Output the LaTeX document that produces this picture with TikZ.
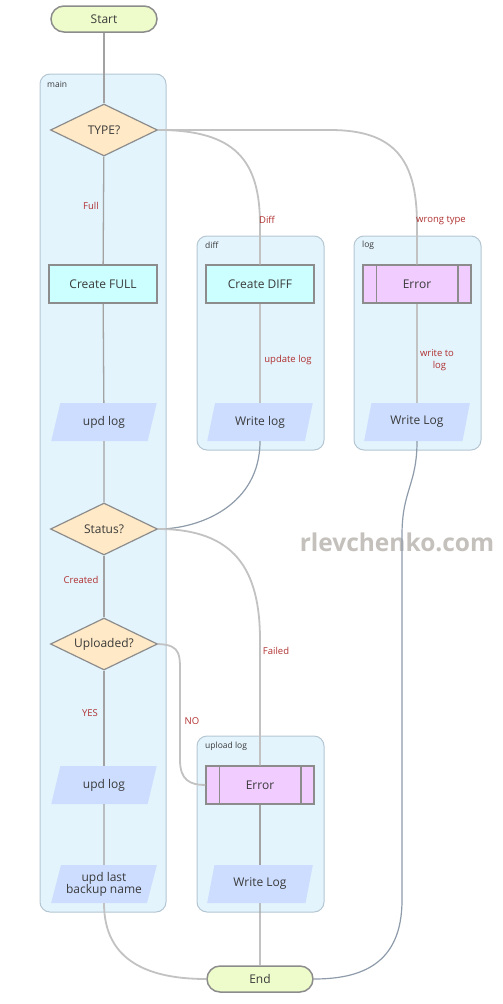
\documentclass[tikz,border=0pt]{standalone}
\usepackage{fontspec}
\setmainfont{Open Sans}
\usetikzlibrary{shapes.geometric}
\definecolor{contfill}{HTML}{E3F4FD}
\definecolor{contdraw}{HTML}{B4C6D2}
\definecolor{termfill}{HTML}{EEFCCB}
\definecolor{decfill}{HTML}{FFE9C6}
\definecolor{procfill}{HTML}{CCFFFF}
\definecolor{errfill}{HTML}{F0CCFF}
\definecolor{iofill}{HTML}{CCDDFF}
\definecolor{shapedraw}{HTML}{8C8C8C}
\definecolor{txt}{HTML}{3A3A3A}
\definecolor{lbl}{HTML}{B03030}
\definecolor{lineA}{HTML}{A2A2A2}
\definecolor{lineB}{HTML}{C2C2C2}
\definecolor{lineC}{HTML}{8D9BAA}
\definecolor{wm}{HTML}{C4C0BC}
\tikzset{
  cont/.style={draw=contdraw, fill=contfill, line width=1pt, rounded corners=10pt},
  contlabel/.style={anchor=west, inner sep=0pt, text=txt, font=\fontsize{8.5}{10}\selectfont},
  term/.style={draw=shapedraw, fill=termfill, line width=1.5pt, rounded corners=13pt,
    minimum width=106pt, minimum height=26pt, inner sep=0pt, text=txt, font=\fontsize{12}{14}\selectfont},
  dec/.style={diamond, draw=shapedraw, fill=decfill, line width=1.2pt, aspect=2,
    minimum width=107pt, minimum height=52pt, inner sep=0pt, text=txt, font=\fontsize{12}{14}\selectfont},
  proc/.style={draw=shapedraw, fill=procfill, line width=1.5pt,
    minimum width=108pt, minimum height=38pt, inner sep=0pt, text=txt, font=\fontsize{12}{14}\selectfont},
  errbox/.style={draw=shapedraw, fill=errfill, line width=1.5pt,
    minimum width=108pt, minimum height=38pt, inner sep=0pt, text=txt, font=\fontsize{12}{14}\selectfont},
  io/.style={trapezium, trapezium stretches=true, trapezium left angle=70, trapezium right angle=110,
    fill=iofill, minimum width=106pt, minimum height=38pt, inner sep=0pt, align=center,
    text=txt, font=\fontsize{12}{14}\selectfont},
  connA/.style={draw=lineA, line width=1.3pt},
  connB/.style={draw=lineB, line width=1.8pt},
  connC/.style={draw=lineC, line width=1.2pt},
  elabel/.style={inner sep=0pt, text=lbl, align=center, font=\fontsize{9.5}{12.5}\selectfont},
}
\begin{document}
\begin{tikzpicture}[x=1pt,y=-1pt]
\useasboundingbox (0,0) rectangle (503,1004);

% containers
\draw[cont] (40,74) rectangle (166,912);
\node[contlabel] (lmain) at (47,84) {main};
\draw[cont] (197,236) rectangle (324,450);
\node[contlabel] (ldiff) at (205,245) {diff};
\draw[cont] (354,236) rectangle (481,450);
\node[contlabel] (llog) at (362,245) {log};
\draw[cont] (197,736) rectangle (324,912);
\node[contlabel] (lup) at (205,746) {upload log};

% watermark
\node[text=wm, font=\fontsize{24.5}{27}\selectfont\bfseries] (wmark) at (397,542) {rlevchenko.com};

% nodes
\node[term] (start) at (104,19) {Start};
\node[dec] (type) at (104,130) {TYPE?};
\node[proc] (cfull) at (103,284) {Create FULL};
\node[io] (upd1) at (104,422) {upd log};
\node[dec] (status) at (104,529) {Status?};
\node[dec] (upl) at (104,644) {Uploaded?};
\node[io] (upd2) at (104,785) {upd log};
\node[io] (updlast) at (104,884) {upd last\\[-2pt]backup name};

\node[proc] (cdiff) at (260,284) {Create DIFF};
\node[io] (wdiff) at (260,422) {Write log};

\node[errbox] (err1) at (417,284) {Error};
\node[io] (wlog) at (417,422) {Write Log};

\node[errbox] (err2) at (260,785) {Error};
\node[io] (wup) at (260,884) {Write Log};
\node[term] (end) at (260,979) {End};

% inner bars of predefined process boxes
\draw[draw=shapedraw, line width=1.5pt] ([xshift=14pt]err1.north west) -- ([xshift=14pt]err1.south west);
\draw[draw=shapedraw, line width=1.5pt] ([xshift=-14pt]err1.north east) -- ([xshift=-14pt]err1.south east);
\draw[draw=shapedraw, line width=1.5pt] ([xshift=14pt]err2.north west) -- ([xshift=14pt]err2.south west);
\draw[draw=shapedraw, line width=1.5pt] ([xshift=-14pt]err2.north east) -- ([xshift=-14pt]err2.south east);

% connectors (main column)
\draw[connA] (start) -- (type);
\draw[connA] (type) -- (cfull);
\draw[connA] (cfull) -- (upd1);
\draw[connA] (upd1) -- (status);
\draw[connA] (status) -- (upl);
\draw[connA] (upl) -- (upd2);
\draw[connA] (upd2) -- (updlast);

% branches
\draw[connB] (type.east) .. controls (235,130) and (260,160) .. (260,225) -- (cdiff.north);
\draw[connB] (type.east) -- (330,130) .. controls (395,130) and (417,160) .. (417,225) -- (err1.north);
\draw[connB] (cdiff) -- (wdiff);
\draw[connB] (err1) -- (wlog);
\draw[connC] (wdiff.south) .. controls (260,505) and (200,529) .. (status.east);
\draw[connC] (wlog.south) .. controls (417,485) and (402,490) .. (402,535) -- (402,900)
  .. controls (402,965) and (360,979) .. (end.east);
\draw[connB] (status.east) .. controls (235,529) and (260,570) .. (260,640) -- (err2.north);
\draw[connB] (upl.east) .. controls (182,645) and (180,655) .. (180,680) -- (180,760)
  .. controls (180,780) and (190,785) .. (err2.west);
\draw[connA] (err2) -- (wup);
\draw[connA] (wup) -- (end);
\draw[connB] (updlast.south) .. controls (104,962) and (150,979) .. (end.west);

% edge labels
\node[elabel] (lfull) at (91,206) {Full};
\node[elabel] (ldiffl) at (267,220) {Diff};
\node[elabel] (lwrong) at (441,221) {wrong type};
\node[elabel] (lupdate) at (288,360) {update log};
\node[elabel] (lwrite) at (437,360) {write to\\\ \ log};
\node[elabel] (lcreated) at (81,580) {Created};
\node[elabel] (lfailed) at (276,651) {Failed};
\node[elabel] (lyes) at (90,713) {YES};
\node[elabel] (lno) at (192,721) {NO};
\end{tikzpicture}
\end{document}
